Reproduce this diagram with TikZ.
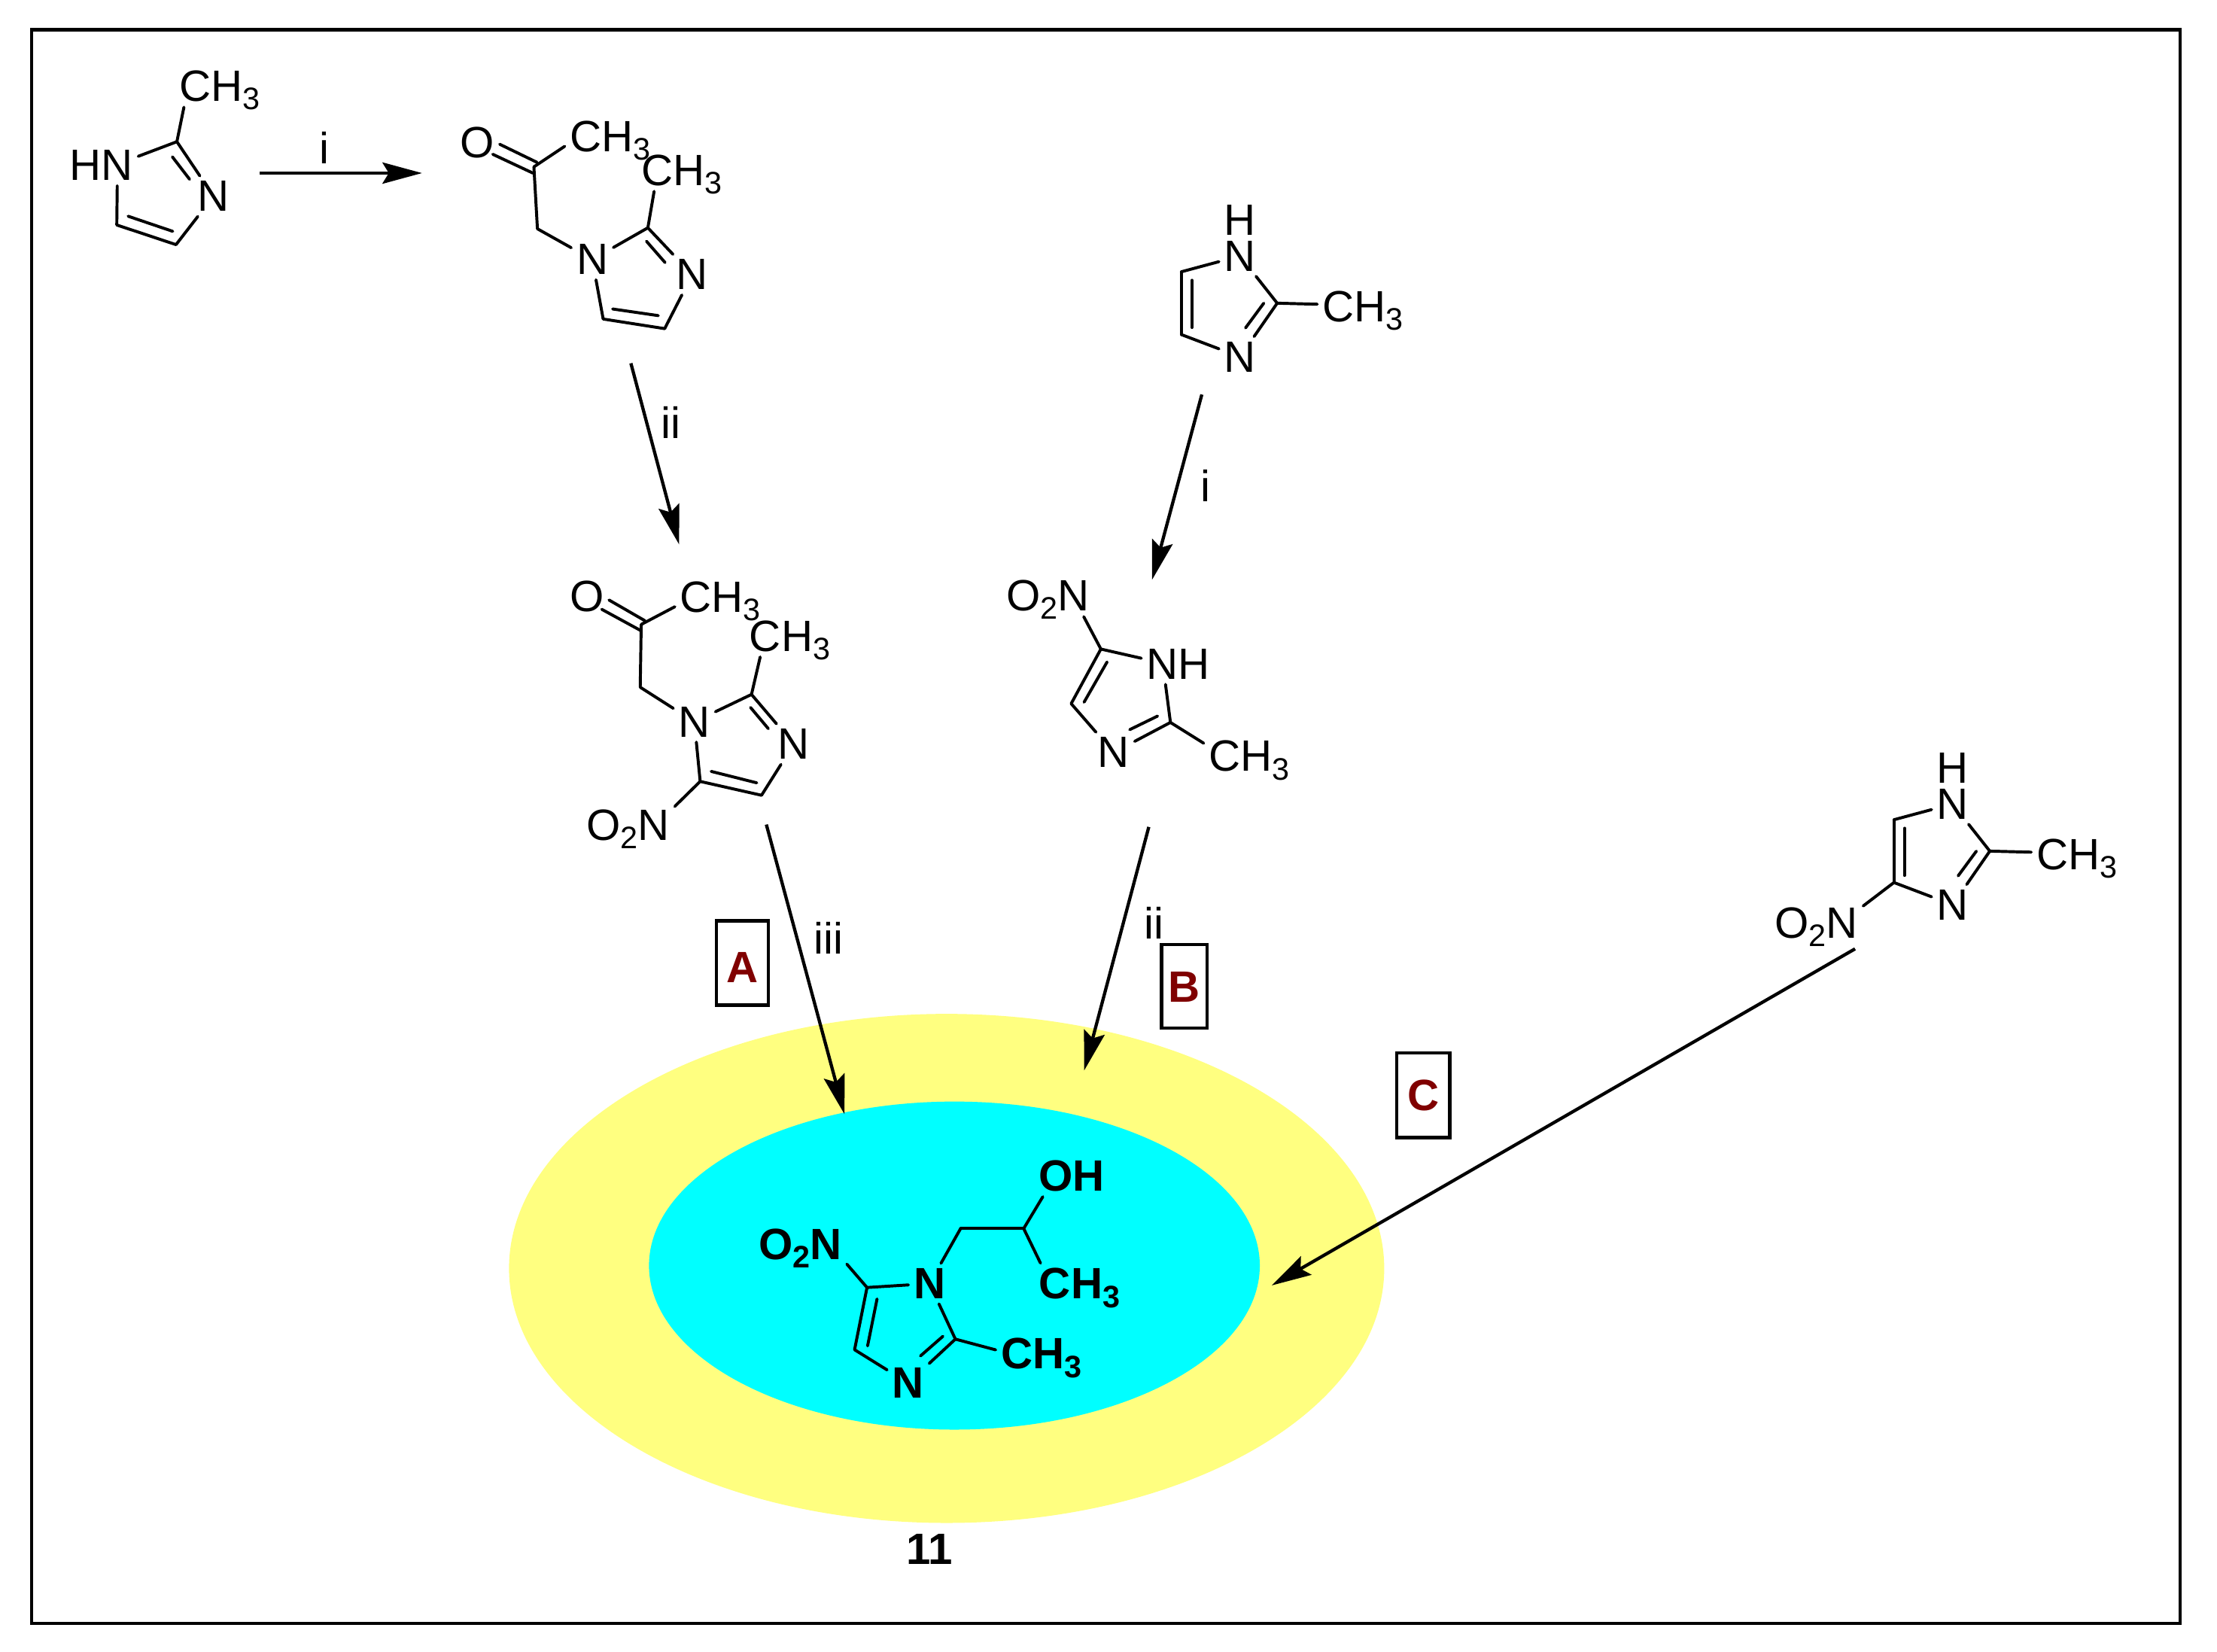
\documentclass[tikz,border=0pt]{standalone}
\usepackage{fontspec}
\setmainfont{Liberation Sans}
\usetikzlibrary{shapes, arrows.meta}
\definecolor{outerfill}{HTML}{FFFF80}
\definecolor{innerfill}{HTML}{00FFFF}
\definecolor{tagred}{HTML}{800000}
\newcommand{\lowsub}[1]{\smash{\raisebox{-5.9pt}{\fontsize{22}{22}\selectfont #1}}}
\tikzstyle{atom} = [inner sep=3.5pt, anchor=base, font=\fontsize{31}{36}\selectfont]
\tikzstyle{grp} = [inner sep=3.5pt, anchor=base west, font=\fontsize{31}{36}\selectfont]
\tikzstyle{batom} = [atom, font=\fontsize{31}{36}\selectfont\bfseries]
\tikzstyle{bgrp} = [grp, font=\fontsize{31}{36}\selectfont\bfseries]
\tikzstyle{lab} = [inner sep=0pt, anchor=base, font=\fontsize{31}{36}\selectfont]
\tikzstyle{tag} = [rectangle, draw, line width=2.4pt, inner sep=0pt, text=tagred, text height=22pt, text depth=0pt, font=\fontsize{31}{36}\selectfont\bfseries]
\tikzstyle{bond} = [draw, line width=2.1pt, line cap=round]
\tikzstyle{line} = [draw, line width=2.3pt, -{Stealth[length=28pt, width=15pt, inset=4.5pt]}]
\begin{document}
\begin{tikzpicture}[x=1pt, y=-1pt]
    \useasboundingbox (0,0) rectangle (1568,1168);
    \fill[white] (0,0) rectangle (1568,1168);
    \draw[line width=2.3pt] (22.5,21) rectangle (1542,1148);

    \node[ellipse, fill=outerfill, inner sep=0pt, minimum width=619pt, minimum height=360pt] (outer) at (669.5,897) {};
    \node[ellipse, fill=innerfill, inner sep=0pt, minimum width=432pt, minimum height=232pt] (inner) at (675,895) {};

    % top left imidazole
    \coordinate (ac2) at (125.1,100.2);
    \coordinate (ac4) at (124.5,173);
    \coordinate (ac5) at (82.6,159.1);
    \coordinate (ad1) at (121.9,110.9);
    \coordinate (ad2) at (134.1,126.8);
    \coordinate (ad3) at (90.6,152.9);
    \coordinate (ad4) at (122.2,163.6);
    \node[grp] (ame) at (123.3,71.8) {CH\lowsub{3}};
    \node[grp] (ahn) at (45.6,127.7) {HN};
    \node[atom] (an3) at (151,149.4) {N};
    \path[bond] (ac2) -- (ame.210);
    \path[bond] (ac2) -- (ahn.14);
    \path[bond] (ac2) -- (an3);
    \path[bond] (ad1) -- (ad2);
    \path[bond] (an3) -- (ac4);
    \path[bond] (ac4) -- (ac5);
    \path[bond] (ad3) -- (ad4);
    \path[bond] (ac5) -- (ahn.308);

    % ketone
    \coordinate (bc1) at (377.6,118);
    \coordinate (bo1) at (353.4,102);
    \coordinate (bo2) at (379.8,114.8);
    \coordinate (bo3) at (348.5,109.1);
    \coordinate (bo4) at (376.9,122.4);
    \coordinate (bch) at (380.1,161.8);
    \coordinate (bc2) at (458.2,161.1);
    \coordinate (bc4) at (470.1,232.4);
    \coordinate (bc5) at (426.6,225.6);
    \coordinate (bd1) at (457.2,170.6);
    \coordinate (bd2) at (470.4,185.7);
    \coordinate (bd3) at (433.3,218.5);
    \coordinate (bd4) at (465.6,223.2);
    \node[atom] (bo) at (337.6,111.4) {O};
    \node[grp] (bme) at (399.4,107.3) {CH\lowsub{3}};
    \node[grp] (bmf) at (449.9,131.3) {CH\lowsub{3}};
    \node[atom] (bn1) at (418.9,194.2) {N};
    \node[atom] (bn3) at (489.6,204.9) {N};
    \path[bond] (bo1) -- (bo2);
    \path[bond] (bo3) -- (bo4);
    \path[bond] (bc1) -- (bme.192);
    \path[bond] (bc1) -- (bch);
    \path[bond] (bch) -- (bn1);
    \path[bond] (bn1) -- (bc2);
    \path[bond] (bc2) -- (bmf.217);
    \path[bond] (bc2) -- (bn3);
    \path[bond] (bd1) -- (bd2);
    \path[bond] (bn3) -- (bc4);
    \path[bond] (bc4) -- (bc5);
    \path[bond] (bd3) -- (bd4);
    \path[bond] (bc5) -- (bn1);

    % nitro ketone
    \coordinate (cc1) at (453.5,441.6);
    \coordinate (co1) at (430.7,424.3);
    \coordinate (co2) at (456.2,439);
    \coordinate (co3) at (425.6,430.9);
    \coordinate (co4) at (453.5,446.1);
    \coordinate (cch) at (452.8,486);
    \coordinate (cc2) at (531.5,491.1);
    \coordinate (cc4) at (538.6,562.4);
    \coordinate (cc5) at (495.2,552.6);
    \coordinate (cd1) at (530.8,500.3);
    \coordinate (cd2) at (543.4,515.3);
    \coordinate (cd3) at (503,545.5);
    \coordinate (cd4) at (535.2,553.6);
    \node[atom] (co) at (415.4,432.5) {O};
    \node[grp] (cme) at (477.3,432.9) {CH\lowsub{3}};
    \node[grp] (cmf) at (526.4,460.6) {CH\lowsub{3}};
    \node[atom] (cn1) at (491.1,521.1) {N};
    \node[atom] (cn3) at (561.4,536.9) {N};
    \node[grp] (cno) at (411.1,594.3) {O\lowsub{2}N};
    \path[bond] (co1) -- (co2);
    \path[bond] (co3) -- (co4);
    \path[bond] (cc1) -- (cme.192);
    \path[bond] (cc1) -- (cch);
    \path[bond] (cch) -- (cn1);
    \path[bond] (cn1) -- (cc2);
    \path[bond] (cc2) -- (cmf.215);
    \path[bond] (cc2) -- (cn3);
    \path[bond] (cd1) -- (cd2);
    \path[bond] (cn3) -- (cc4);
    \path[bond] (cc4) -- (cc5);
    \path[bond] (cd3) -- (cd4);
    \path[bond] (cc5) -- (cn1);
    \path[bond] (cc5) -- (cno.22);

    % upper right imidazole
    \coordinate (dc2) at (903.3,214.4);
    \coordinate (dc4) at (835.5,236.6);
    \coordinate (dc5) at (835.5,192.2);
    \coordinate (dd1) at (843,198.2);
    \coordinate (dd2) at (843,231.6);
    \coordinate (dd3) at (893.8,214.4);
    \coordinate (dd4) at (880.9,231.9);
    \node[atom] (dh) at (877,166.3) {H};
    \node[atom] (dn1) at (877,191.7) {N};
    \node[atom] (dn3) at (877,263) {N};
    \node[grp] (dme) at (931.6,227.5) {CH\lowsub{3}};
    \path[bond] (dn1) -- (dc5);
    \path[bond] (dc5) -- (dc4);
    \path[bond] (dd1) -- (dd2);
    \path[bond] (dc4) -- (dn3);
    \path[bond] (dn1) -- (dc2);
    \path[bond] (dc2) -- (dn3);
    \path[bond] (dd3) -- (dd4);
    \path[bond] (dc2) -- (dme.177);

    % middle nitro imidazole
    \coordinate (ec5) at (778.6,459);
    \coordinate (ec4) at (757.6,497.6);
    \coordinate (ec2) at (827.8,510.9);
    \coordinate (ed1) at (783,468.1);
    \coordinate (ed2) at (766.7,496.6);
    \coordinate (ed3) at (818.7,506.4);
    \coordinate (ed4) at (799,516);
    \node[grp] (eno) at (708,432.1) {O\lowsub{2}N};
    \node[grp] (enh) at (807.2,480.3) {NH};
    \node[atom] (en3) at (787.6,542.8) {N};
    \node[grp] (eme) at (851.3,545.5) {CH\lowsub{3}};
    \path[bond] (ec5) -- (eno.330);
    \path[bond] (ec5) -- (enh.171);
    \path[bond] (ec5) -- (ec4);
    \path[bond] (ed1) -- (ed2);
    \path[bond] (ec4) -- (en3);
    \path[bond] (enh.238) -- (ec2);
    \path[bond] (ec2) -- (en3);
    \path[bond] (ed3) -- (ed4);
    \path[bond] (ec2) -- (eme.164);

    % right nitro imidazole
    \coordinate (fc2) at (1407.3,601.9);
    \coordinate (fc4) at (1339.5,624.1);
    \coordinate (fc5) at (1339.5,579.7);
    \coordinate (fd1) at (1347,585.7);
    \coordinate (fd2) at (1347,619.1);
    \coordinate (fd3) at (1397.8,601.9);
    \coordinate (fd4) at (1384.9,619.4);
    \node[atom] (fh) at (1381,553.8) {H};
    \node[atom] (fn1) at (1381,579.2) {N};
    \node[atom] (fn3) at (1381,650.5) {N};
    \node[grp] (fme) at (1436.6,615) {CH\lowsub{3}};
    \node[grp] (fno) at (1251.6,663.4) {O\lowsub{2}N};
    \path[bond] (fn1) -- (fc5);
    \path[bond] (fc5) -- (fc4);
    \path[bond] (fd1) -- (fd2);
    \path[bond] (fc4) -- (fn3);
    \path[bond] (fn1) -- (fc2);
    \path[bond] (fc2) -- (fn3);
    \path[bond] (fd3) -- (fd4);
    \path[bond] (fc2) -- (fme.177);
    \path[bond] (fc4) -- (fno.20);

    % product
    \coordinate (gc5) at (613.2,910.5);
    \coordinate (gc4) at (604.4,954.5);
    \coordinate (gc2) at (675.7,947);
    \coordinate (gch) at (679.4,868.8);
    \coordinate (gcc) at (724,868.8);
    \coordinate (gd1) at (620.3,918.6);
    \coordinate (gd2) at (613.6,951.8);
    \coordinate (gd3) at (666.9,945);
    \coordinate (gd4) at (651,958.9);
    \node[bgrp] (gno) at (532.8,890.6) {O\lowsub{2}N};
    \node[batom] (gn1) at (657.4,918.4) {N};
    \node[batom] (gn3) at (642.3,988.7) {N};
    \node[bgrp] (goh) at (730.8,842.3) {OH};
    \node[bgrp] (gme) at (731.3,918.6) {CH\lowsub{3}};
    \node[bgrp] (gmf) at (704.2,968.1) {CH\lowsub{3}};
    \path[bond] (gc5) -- (gno.337);
    \path[bond] (gc5) -- (gn1);
    \path[bond] (gc5) -- (gc4);
    \path[bond] (gd1) -- (gd2);
    \path[bond] (gc4) -- (gn3);
    \path[bond] (gn1) -- (gc2);
    \path[bond] (gc2) -- (gn3);
    \path[bond] (gd3) -- (gd4);
    \path[bond] (gc2) -- (gmf.175);
    \path[bond] (gn1) -- (gch);
    \path[bond] (gch) -- (gcc);
    \path[bond] (gcc) -- (goh.216);
    \path[bond] (gcc) -- (gme.152);
    \node[lab, font=\fontsize{31}{36}\selectfont\bfseries] (num) at (657.6,1106) {11};

    % reaction arrows
    \coordinate (r1s) at (183.5,122.4);
    \coordinate (r1e) at (298.5,122.4);
    \coordinate (r2s) at (446.2,256.9);
    \coordinate (r2e) at (480.3,385);
    \coordinate (r3s) at (542,583.1);
    \coordinate (r3e) at (597.3,788);
    \coordinate (r4s) at (850,279);
    \coordinate (r4e) at (814.8,410);
    \coordinate (r5s) at (812.5,584.8);
    \coordinate (r5e) at (766.8,757);
    \coordinate (r6s) at (1312,671);
    \coordinate (r6e) at (899.5,909);
    \path[line] (r1s) -- (r1e);
    \path[line] (r2s) -- (r2e);
    \path[line] (r3s) -- (r3e);
    \path[line] (r4s) -- (r4e);
    \path[line] (r5s) -- (r5e);
    \path[line] (r6s) -- (r6e);
    \node[lab] (l1) at (229.4,115.8) {i};
    \node[lab] (l2) at (474.5,310) {ii};
    \node[lab] (l3) at (585.8,674.4) {iii};
    \node[lab] (l4) at (852.4,355) {i};
    \node[lab] (l5) at (816,664) {ii};

    \node[tag, text height=27.6pt, minimum width=36.7pt, minimum height=59.5pt] (boxa) at (525,681) {A};
    \node[tag, minimum width=32.3pt, minimum height=59pt] (boxb) at (837.6,697.5) {B};
    \node[tag, minimum width=37.5pt, minimum height=60pt] (boxc) at (1006.5,774.5) {C};
\end{tikzpicture}
\end{document}
